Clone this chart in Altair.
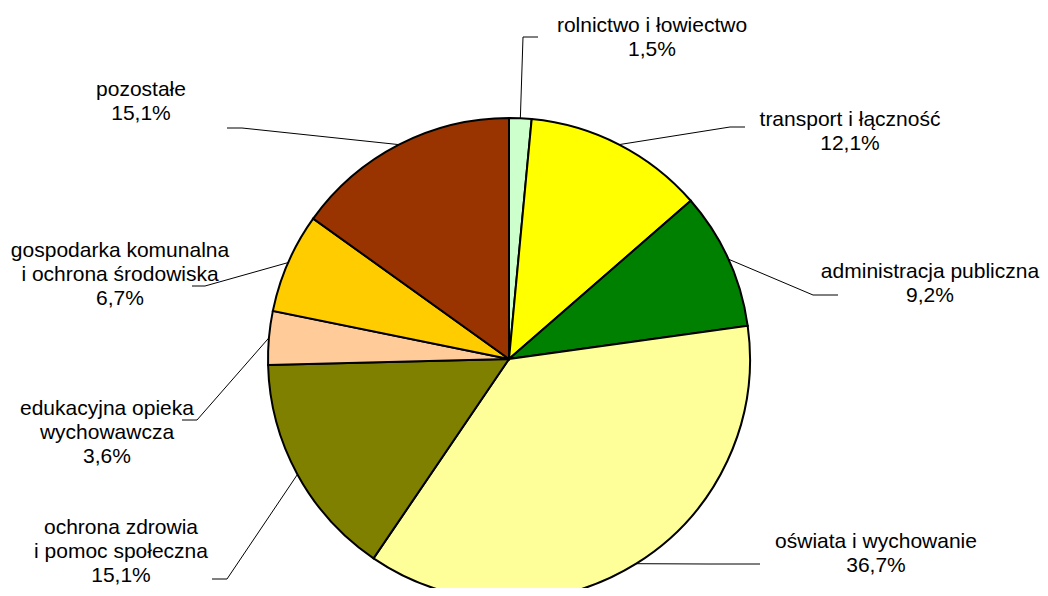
import altair as alt
import pandas as pd
import math

# ---- data ----
categories = [
    "rolnictwo i łowiectwo",
    "transport i łączność",
    "administracja publiczna",
    "oświata i wychowanie",
    "ochrona zdrowia\ni pomoc społeczna",
    "edukacyjna opieka\nwychowawcza",
    "gospodarka komunalna\ni ochrona środowiska",
    "pozostałe",
]
values = [1.5, 12.1, 9.2, 36.7, 15.1, 3.6, 6.7, 15.1]
colors = ["#CCFFCC", "#FFFF00", "#008000", "#FFFF99", "#808000", "#FFCC99", "#FFCC00", "#993300"]

# ---- layout (chart pixel coordinates) ----
CX, CY, R = 501, 351, 241
label_x = [644, 842, 922, 868, 113, 99, 112, 133]
label_y = [24, 118, 270, 540, 526, 407, 249, 88]
elbow = [(515, 29), (722, 119), (805, 287), (700, 556), (219, 571), (189, 412), (197, 278), (234, 120)]
end = [(530, 29), (737, 119), (830, 287), (752, 556), (204, 571), (174, 412), (184, 278), (219, 120)]

def fmt(v):
    return f"{v:.1f}".replace(".", ",") + "%"

df = pd.DataFrame({
    "idx": list(range(len(categories))),
    "cat": categories,
    "value": values,
    "label": [f"{c}\n{fmt(v)}" for c, v in zip(categories, values)],
    "lx": label_x,
    "ly": label_y,
})

# leader lines: from slice mid-angle on the edge to the label
total = sum(values)
rows = []
cum = 0.0
for i, v in enumerate(values):
    mid = (cum + v / 2) / total * 2 * math.pi
    cum += v
    ex, ey = CX + R * math.sin(mid), CY - R * math.cos(mid)
    pts = [(ex, ey), elbow[i], end[i]]
    for k, (px, py) in enumerate(pts):
        rows.append({"g": i, "o": k, "x": px, "y": py})
lines_df = pd.DataFrame(rows)

pie = alt.Chart(df).mark_arc(outerRadius=R, stroke="black", strokeWidth=2).encode(
    theta=alt.Theta("value:Q", stack=True),
    color=alt.Color("cat:N", scale=alt.Scale(domain=categories, range=colors), legend=None),
    order=alt.Order("idx:Q"),
    x=alt.value(CX),
    y=alt.value(CY),
)

leaders = alt.Chart(lines_df).mark_line(color="black", strokeWidth=1).encode(
    x=alt.X("x:Q", scale=None, axis=None),
    y=alt.Y("y:Q", scale=None, axis=None),
    detail="g:N",
    order="o:Q",
)

labels = alt.Chart(df).mark_text(
    font="Liberation Sans", fontSize=21, lineBreak="\n", lineHeight=24,
    align="center", baseline="alphabetic", color="black",
).encode(
    x=alt.X("lx:Q", scale=None, axis=None),
    y=alt.Y("ly:Q", scale=None, axis=None),
    text="label:N",
)

chart = alt.layer(leaders, pie, labels).properties(
    width=1032, height=580, padding=0,
    autosize=alt.AutoSizeParams(type="none"),
).configure_view(stroke=None)

chart.save("out.html", embed_options={"renderer": "svg", "actions": False})
